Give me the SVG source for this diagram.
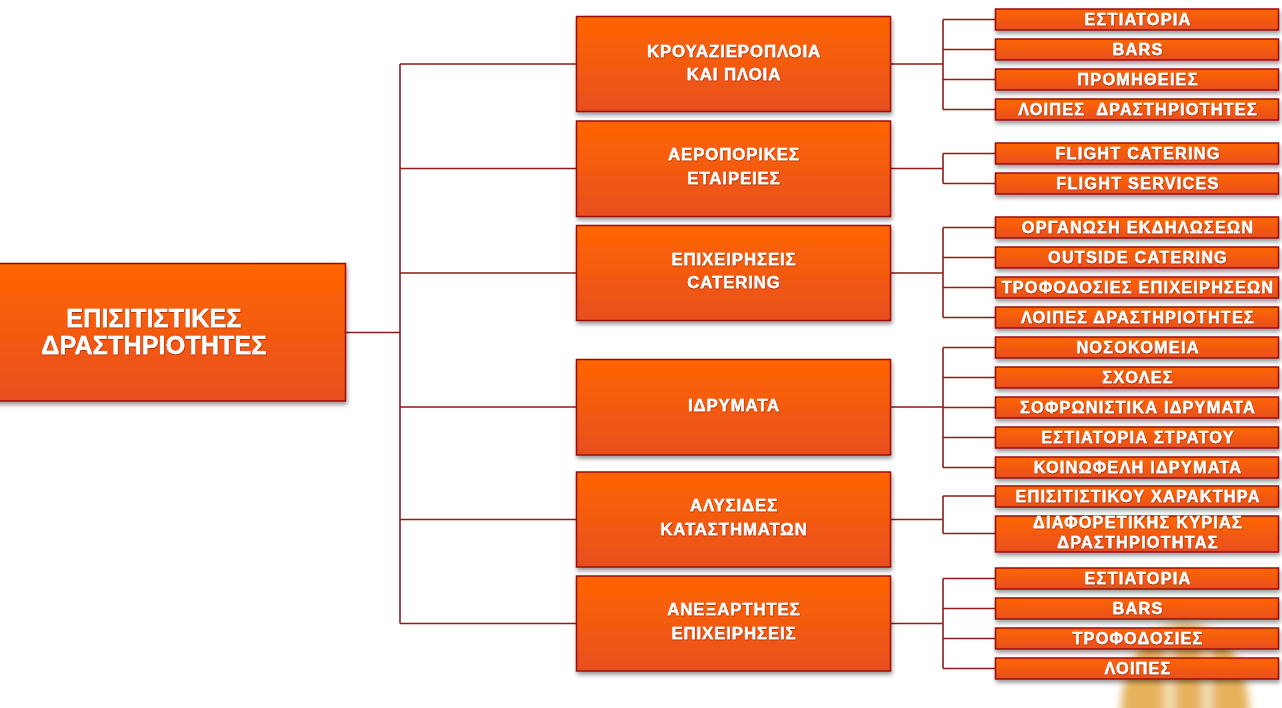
<svg xmlns="http://www.w3.org/2000/svg" width="1282" height="708" viewBox="0 0 1282 708">
<defs>
<linearGradient id="og" x1="0" y1="0" x2="0" y2="1">
<stop offset="0" stop-color="#FF6600"/>
<stop offset="1" stop-color="#E84F1F"/>
</linearGradient>
<filter id="sh" x="-5%" y="-20%" width="112%" height="160%">
<feDropShadow dx="1" dy="3" stdDeviation="2" flood-color="#000" flood-opacity="0.4"/>
</filter>
<filter id="ts" x="-5%" y="-30%" width="110%" height="160%">
<feDropShadow dx="0.4" dy="0.8" stdDeviation="0.5" flood-color="#6a1500" flood-opacity="0.7"/>
</filter>
<filter id="bl" x="-30%" y="-30%" width="160%" height="160%">
<feGaussianBlur stdDeviation="4"/>
</filter>
<style>
.box{fill:url(#og);stroke:#9A0F0A;stroke-width:1.5;filter:url(#sh)}
.t{fill:#fff;stroke:#fff;stroke-width:0.35;font-family:"Liberation Sans",Arial,sans-serif;font-weight:bold;text-anchor:middle;filter:url(#ts)}
.root{font-size:25px;letter-spacing:0.2px}
.mid{font-size:16.8px;letter-spacing:0.9px}
.leaf{font-size:16.3px;letter-spacing:1.2px}
.c{fill:none;stroke:#8E1B1B;stroke-width:1.6}
</style>
</defs>
<rect width="1282" height="708" fill="#fff"/>
<g id="bg-decor" filter="url(#bl)">
<ellipse cx="1185" cy="712" rx="64" ry="90" fill="#E2A640" opacity="0.85"/>
<rect x="1164" y="630" width="11" height="90" fill="#F4DDB0"/>
<rect x="1202" y="630" width="10" height="90" fill="#F4DDB0"/>
</g>
<g id="connectors" class="c">
<path class="c" d="M345,332.5H400M400,64V623.5M400,64H577M400,168.5H577M400,273H577M400,407H577M400,519.5H577M400,623.5H577"/>
<path class="c" d="M890,64H943M943,19.5V109.5M943,19.5H996M943,49.5H996M943,79.5H996M943,109.5H996"/>
<path class="c" d="M890,168.5H943M943,153.5V183.5M943,153.5H996M943,183.5H996"/>
<path class="c" d="M890,273H943M943,227.5V317.5M943,227.5H996M943,257.5H996M943,287.5H996M943,317.5H996"/>
<path class="c" d="M890,407H943M943,347.5V467.5M943,347.5H996M943,377.5H996M943,407.5H996M943,437.5H996M943,467.5H996"/>
<path class="c" d="M890,519.5H943M943,496V533.5M943,496H996M943,533.5H996"/>
<path class="c" d="M890,623.5H943M943,578.5V668.5M943,578.5H996M943,608.5H996M943,638.5H996M943,668.5H996"/>
</g>
<g id="root">
<rect class="box" x="-10" y="263.5" width="355.5" height="137.5"/>
<text class="t root" x="154" y="327">ΕΠΙΣΙΤΙΣΤΙΚΕΣ</text>
<text class="t root" x="154" y="354">ΔΡΑΣΤΗΡΙΟΤΗΤΕΣ</text>
</g>
<g id="m1"><rect class="box" x="576.5" y="16.5" width="314" height="95"/>
<text class="t mid" x="734" y="57">ΚΡΟΥΑΖΙΕΡΟΠΛΟΙΑ</text><text class="t mid" x="734" y="80">ΚΑΙ ΠΛΟΙΑ</text></g>
<g id="m2"><rect class="box" x="576.5" y="121" width="314" height="95.5"/>
<text class="t mid" x="734" y="160">ΑΕΡΟΠΟΡΙΚΕΣ</text><text class="t mid" x="734" y="184">ΕΤΑΙΡΕΙΕΣ</text></g>
<g id="m3"><rect class="box" x="576.5" y="225.5" width="314" height="95"/>
<text class="t mid" x="734" y="265">ΕΠΙΧΕΙΡΗΣΕΙΣ</text><text class="t mid" x="734" y="288">CATERING</text></g>
<g id="m4"><rect class="box" x="576.5" y="359.5" width="314" height="95.5"/>
<text class="t mid" x="734" y="411">ΙΔΡΥΜΑΤΑ</text></g>
<g id="m5"><rect class="box" x="576.5" y="472" width="314" height="95"/>
<text class="t mid" x="734" y="511">ΑΛΥΣΙΔΕΣ</text><text class="t mid" x="734" y="535">ΚΑΤΑΣΤΗΜΑΤΩΝ</text></g>
<g id="m6"><rect class="box" x="576.5" y="576" width="314" height="95"/>
<text class="t mid" x="734" y="615">ΑΝΕΞΑΡΤΗΤΕΣ</text><text class="t mid" x="734" y="639">ΕΠΙΧΕΙΡΗΣΕΙΣ</text></g>
<g id="l1a"><rect class="box" x="995.5" y="9" width="283" height="21"/><text class="t leaf" x="1138" y="25">ΕΣΤΙΑΤΟΡΙΑ</text></g>
<g id="l1b"><rect class="box" x="995.5" y="39" width="283" height="21"/><text class="t leaf" x="1138" y="55">BARS</text></g>
<g id="l1c"><rect class="box" x="995.5" y="69" width="283" height="21"/><text class="t leaf" x="1138" y="85">ΠΡΟΜΗΘΕΙΕΣ</text></g>
<g id="l1d"><rect class="box" x="995.5" y="99" width="283" height="21"/><text class="t leaf" x="1138" y="115" xml:space="preserve">ΛΟΙΠΕΣ  ΔΡΑΣΤΗΡΙΟΤΗΤΕΣ</text></g>
<g id="l2a"><rect class="box" x="995.5" y="143" width="283" height="21"/><text class="t leaf" x="1138" y="159">FLIGHT CATERING</text></g>
<g id="l2b"><rect class="box" x="995.5" y="173" width="283" height="21"/><text class="t leaf" x="1138" y="189">FLIGHT SERVICES</text></g>
<g id="l3a"><rect class="box" x="995.5" y="217" width="283" height="21"/><text class="t leaf" x="1138" y="233">ΟΡΓΑΝΩΣΗ ΕΚΔΗΛΩΣΕΩΝ</text></g>
<g id="l3b"><rect class="box" x="995.5" y="247" width="283" height="21"/><text class="t leaf" x="1138" y="263">OUTSIDE CATERING</text></g>
<g id="l3c"><rect class="box" x="995.5" y="277" width="283" height="21"/><text class="t leaf" x="1138" y="293">ΤΡΟΦΟΔΟΣΙΕΣ ΕΠΙΧΕΙΡΗΣΕΩΝ</text></g>
<g id="l3d"><rect class="box" x="995.5" y="307" width="283" height="21"/><text class="t leaf" x="1138" y="323">ΛΟΙΠΕΣ ΔΡΑΣΤΗΡΙΟΤΗΤΕΣ</text></g>
<g id="l4a"><rect class="box" x="995.5" y="337" width="283" height="21"/><text class="t leaf" x="1138" y="353">ΝΟΣΟΚΟΜΕΙΑ</text></g>
<g id="l4b"><rect class="box" x="995.5" y="367" width="283" height="21"/><text class="t leaf" x="1138" y="383">ΣΧΟΛΕΣ</text></g>
<g id="l4c"><rect class="box" x="995.5" y="397" width="283" height="21"/><text class="t leaf" x="1138" y="413">ΣΟΦΡΩΝΙΣΤΙΚΑ ΙΔΡΥΜΑΤΑ</text></g>
<g id="l4d"><rect class="box" x="995.5" y="427" width="283" height="21"/><text class="t leaf" x="1138" y="443">ΕΣΤΙΑΤΟΡΙΑ ΣΤΡΑΤΟΥ</text></g>
<g id="l4e"><rect class="box" x="995.5" y="457" width="283" height="21"/><text class="t leaf" x="1138" y="473">ΚΟΙΝΩΦΕΛΗ ΙΔΡΥΜΑΤΑ</text></g>
<g id="l5a"><rect class="box" x="995.5" y="486" width="283" height="21"/><text class="t leaf" x="1138" y="502">ΕΠΙΣΙΤΙΣΤΙΚΟΥ ΧΑΡΑΚΤΗΡΑ</text></g>
<g id="l5b"><rect class="box" x="995.5" y="516" width="283" height="36"/><text class="t leaf" x="1138" y="528">ΔΙΑΦΟΡΕΤΙΚΗΣ ΚΥΡΙΑΣ</text><text class="t leaf" x="1138" y="548">ΔΡΑΣΤΗΡΙΟΤΗΤΑΣ</text></g>
<g id="l6a"><rect class="box" x="995.5" y="568" width="283" height="21"/><text class="t leaf" x="1138" y="584">ΕΣΤΙΑΤΟΡΙΑ</text></g>
<g id="l6b"><rect class="box" x="995.5" y="598" width="283" height="21"/><text class="t leaf" x="1138" y="614">BARS</text></g>
<g id="l6c"><rect class="box" x="995.5" y="628" width="283" height="21"/><text class="t leaf" x="1138" y="644">ΤΡΟΦΟΔΟΣΙΕΣ</text></g>
<g id="l6d"><rect class="box" x="995.5" y="658" width="283" height="21"/><text class="t leaf" x="1138" y="674">ΛΟΙΠΕΣ</text></g>
</svg>
